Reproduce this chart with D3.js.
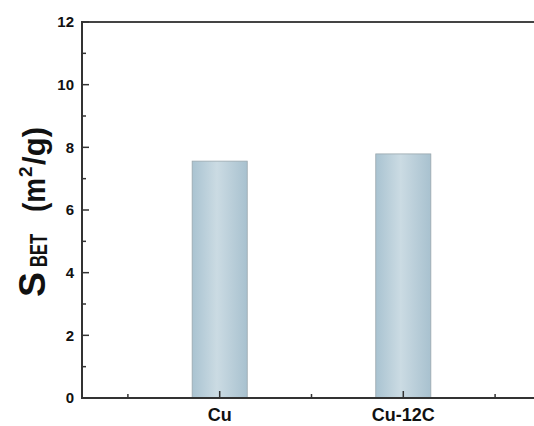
<!DOCTYPE html>
<html>
<head>
<meta charset="utf-8">
<script src="https://cdn.jsdelivr.net/npm/d3@7/dist/d3.min.js"></script>
<style>
  body { margin: 0; background: #fff; }
  svg { display: block; }
  text { font-family: "Liberation Sans", Arial, sans-serif; font-weight: bold; fill: #111; }
</style>
</head>
<body>
<div id="chart"></div>
<script>
const categories = ["Cu", "Cu-12C"];
const sbet = [7.56, 7.79];
const yTicks = [0, 2, 4, 6, 8, 10, 12];
const yMinor = [1, 3, 5, 7, 9, 11];
const xMinor = [0.5, 1.5, 2.5];

const width = 534, height = 426;
const margin = { top: 22, right: -7, bottom: 28, left: 82 };

const svg = d3.select("#chart").append("svg")
  .attr("width", width).attr("height", height);

const x = d3.scaleLinear().domain([0.25, 2.75]).range([margin.left, width - margin.right]);
const y = d3.scaleLinear().domain([0, 12]).range([height - margin.bottom, margin.top]);

const defs = svg.append("defs");
const grad = defs.append("linearGradient").attr("id", "barGrad")
  .attr("x1", "0%").attr("x2", "100%").attr("y1", "0%").attr("y2", "0%");
grad.append("stop").attr("offset", "0%").attr("stop-color", "#a9c3d1");
grad.append("stop").attr("offset", "45%").attr("stop-color", "#cbdbe3");
grad.append("stop").attr("offset", "100%").attr("stop-color", "#a8c1cf");

const barW = x(1.3) - x(1);
svg.selectAll(".bar").data(sbet).enter().append("rect")
  .attr("class", "bar")
  .attr("x", (d, i) => x(i + 1) - barW / 2)
  .attr("y", d => y(d))
  .attr("width", barW)
  .attr("height", d => y(0) - y(d))
  .attr("fill", "url(#barGrad)")
  .attr("stroke", "#9aa7ad")
  .attr("stroke-width", 0.8);

// frame
svg.append("line").attr("x1", x(0.25)).attr("x2", x(2.75)).attr("y1", y(12)).attr("y2", y(12))
  .attr("stroke", "#444").attr("stroke-width", 2);
svg.append("line").attr("x1", x(0.25)).attr("x2", x(2.75)).attr("y1", y(0)).attr("y2", y(0))
  .attr("stroke", "#333").attr("stroke-width", 2);
svg.append("line").attr("x1", x(0.25)).attr("x2", x(0.25)).attr("y1", y(0) + 1).attr("y2", y(12) - 1)
  .attr("stroke", "#333").attr("stroke-width", 2);

// y ticks
const yAxis = svg.append("g");
yAxis.selectAll(".ymaj").data(yTicks).enter().append("line")
  .attr("x1", x(0.25)).attr("x2", x(0.25) + 7)
  .attr("y1", d => y(d)).attr("y2", d => y(d))
  .attr("stroke", "#333").attr("stroke-width", 1.5);
yAxis.selectAll(".ymin").data(yMinor).enter().append("line")
  .attr("x1", x(0.25)).attr("x2", x(0.25) + 4)
  .attr("y1", d => y(d)).attr("y2", d => y(d))
  .attr("stroke", "#333").attr("stroke-width", 1.5);
yAxis.selectAll("text").data(yTicks).enter().append("text")
  .attr("x", x(0.25) - 8).attr("y", d => y(d))
  .attr("dy", "0.36em").attr("text-anchor", "end")
  .style("font-size", "15px").text(d => d);

// x ticks
const xAxis = svg.append("g");
xAxis.selectAll(".xmaj").data(categories).enter().append("line")
  .attr("x1", (d, i) => x(i + 1)).attr("x2", (d, i) => x(i + 1))
  .attr("y1", y(0)).attr("y2", y(0) - 7)
  .attr("stroke", "#333").attr("stroke-width", 1.5);
xAxis.selectAll(".xmin").data(xMinor).enter().append("line")
  .attr("x1", d => x(d)).attr("x2", d => x(d))
  .attr("y1", y(0)).attr("y2", y(0) - 4)
  .attr("stroke", "#333").attr("stroke-width", 1.5);
xAxis.selectAll("text").data(categories).enter().append("text")
  .attr("x", (d, i) => x(i + 1)).attr("y", y(0) + 23)
  .attr("text-anchor", "middle")
  .style("font-size", "18px").text(d => d);

// y label (rotated; local x runs upward along the axis)
const lab = svg.append("g").attr("transform", "translate(45,297) rotate(-90)");
lab.append("text").attr("x", 0).attr("y", 0)
  .attr("textLength", 25).attr("lengthAdjust", "spacingAndGlyphs")
  .style("font-size", "37px").text("S");
lab.append("text").attr("x", 30).attr("y", 2)
  .attr("textLength", 33).attr("lengthAdjust", "spacingAndGlyphs")
  .style("font-size", "24px").text("BET");
lab.append("text").attr("x", 85).attr("y", 0)
  .attr("textLength", 34).attr("lengthAdjust", "spacingAndGlyphs")
  .style("font-size", "32px").text("(m");
lab.append("text").attr("x", 120).attr("y", -13)
  .style("font-size", "19px").text("2");
lab.append("text").attr("x", 132).attr("y", 0)
  .attr("textLength", 38).attr("lengthAdjust", "spacingAndGlyphs")
  .style("font-size", "32px").text("/g)");
</script>
</body>
</html>
